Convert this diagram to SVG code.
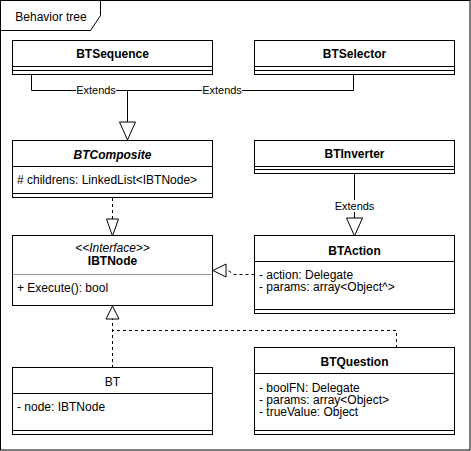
<svg xmlns="http://www.w3.org/2000/svg" width="471" height="451" viewBox="0 0 471 451">
<style>
text{font-family:"Liberation Sans",Arial,sans-serif;font-size:12px;fill:#000}
.t{font-weight:bold;text-anchor:middle}
.n{text-anchor:middle}
.i{font-style:italic}
.lbl{font-size:11px;text-anchor:middle}
.box{fill:#fff;stroke:#000;stroke-width:1}
.ln{stroke:#000;stroke-width:1;fill:none}
.ds{stroke:#000;stroke-width:1;fill:none;stroke-dasharray:3 3}
.tri{fill:#fff;stroke:#000;stroke-width:1}
.bg{fill:#fff}
</style>
<rect x="0.5" y="0.5" width="469.5" height="449.5" fill="#fff" stroke="#000"/>
<path d="M0.5,30.5 H90.5 L100.5,15.5 V0.5" fill="none" stroke="#000"/>
<text x="51" y="21" class="n">Behavior tree</text>

<g id="connectors">
<path class="ln" d="M31.5,74 V90.5 H127.5 V122"/>
<path class="ln" d="M353.5,74 V90.5 H127.5"/>
<polygon class="tri" points="119.5,122 135.5,122 127.5,140"/>
<rect class="bg" x="76" y="84" width="40" height="12"/>
<text x="96" y="94" class="lbl">Extends</text>
<rect class="bg" x="202" y="84" width="40" height="12"/>
<text x="222" y="94" class="lbl">Extends</text>

<path class="ds" d="M112.5,198 V219"/>
<polygon class="tri" points="106.5,219 118.5,219 112.5,236"/>

<path class="ln" d="M354.5,174 V218"/>
<polygon class="tri" points="346.5,218 362.5,218 354.5,236"/>
<rect class="bg" x="334" y="200" width="41" height="12"/>
<text x="354.5" y="210" class="lbl">Extends</text>

<path class="ds" d="M254.5,274.5 H234 L228,270.5 H226"/>
<polygon class="tri" points="226,264 226,277 213,270.5"/>

<path class="ds" d="M396.5,348 V330.5 H112.5 V319"/>
<path class="ds" d="M112.5,368 V319"/>
<polygon class="tri" points="106,319 119,319 112.5,306"/>
</g>

<g id="BTSequence">
<rect class="box" x="12.5" y="40.5" width="200" height="34"/>
<path class="ln" d="M12.5,66.5 H212.5 M12.5,70.5 H212.5"/>
<text x="112.5" y="58" class="t">BTSequence</text>
</g>

<g id="BTSelector">
<rect class="box" x="254.5" y="40.5" width="200" height="34"/>
<path class="ln" d="M254.5,66.5 H454.5 M254.5,70.5 H454.5"/>
<text x="354.5" y="58" class="t">BTSelector</text>
</g>

<g id="BTComposite">
<rect class="box" x="12.5" y="140.5" width="200" height="57"/>
<path class="ln" d="M12.5,166.5 H212.5 M12.5,193.5 H212.5"/>
<text x="112.5" y="158.5" class="t i">BTComposite</text>
<text x="17" y="184"># childrens: LinkedList&lt;IBTNode&gt;</text>
</g>

<g id="BTInverter">
<rect class="box" x="254.5" y="140.5" width="200" height="33"/>
<path class="ln" d="M254.5,166.5 H454.5 M254.5,169.5 H454.5"/>
<text x="354.5" y="158" class="t">BTInverter</text>
</g>

<g id="IBTNode">
<rect class="box" x="12.5" y="235.5" width="200" height="70"/>
<path d="M12.5,274.5 H212.5" stroke="#999" stroke-width="1"/>
<text x="112.5" y="252" class="n i">&lt;&lt;Interface&gt;&gt;</text>
<text x="112.5" y="265" class="t">IBTNode</text>
<text x="17" y="291.5">+ Execute(): bool</text>
</g>

<g id="BTAction">
<rect class="box" x="254.5" y="235.5" width="200" height="78"/>
<path class="ln" d="M254.5,261.5 H454.5 M254.5,309.5 H454.5"/>
<text x="354.5" y="255" class="t">BTAction</text>
<text x="259" y="279">- action: Delegate</text>
<text x="259" y="291">- params: array&lt;Object^&gt;</text>
</g>

<g id="BT">
<rect class="box" x="12.5" y="367.5" width="200" height="67"/>
<path class="ln" d="M12.5,393.5 H212.5 M12.5,430.5 H212.5"/>
<text x="112.5" y="386" class="n">BT</text>
<text x="17" y="411">- node: IBTNode</text>
</g>

<g id="BTQuestion">
<rect class="box" x="254.5" y="347.5" width="200" height="87"/>
<path class="ln" d="M254.5,373.5 H454.5 M254.5,430.5 H454.5"/>
<text x="354.5" y="366" class="t">BTQuestion</text>
<text x="259" y="391.5">- boolFN: Delegate</text>
<text x="259" y="403.5">- params: array&lt;Object&gt;</text>
<text x="259" y="415.5">- trueValue: Object</text>
</g>
</svg>
